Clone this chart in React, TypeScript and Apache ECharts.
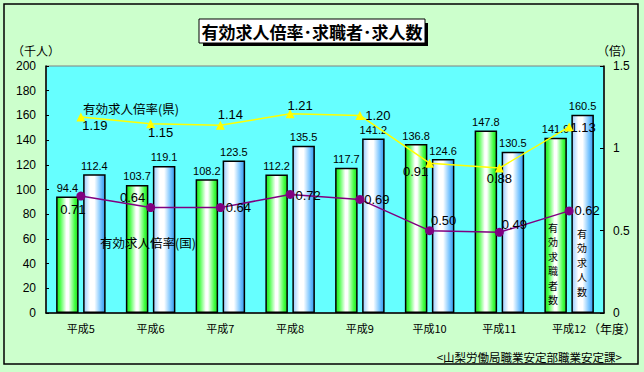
import React, { useEffect, useRef } from "react";
import * as echarts from "echarts";

const categories = ["平成5", "平成6", "平成7", "平成8", "平成9", "平成10", "平成11", "平成12"];
const seekers = [94.4, 103.7, 108.2, 112.2, 117.7, 136.8, 147.8, 141.9];
const openings = [112.4, 119.1, 123.5, 135.5, 141.2, 124.6, 130.5, 160.5];
const ratioPref = [1.19, 1.15, 1.14, 1.21, 1.2, 0.91, 0.88, 1.13];
const ratioNation = [0.71, 0.64, 0.64, 0.72, 0.69, 0.5, 0.49, 0.62];
const leftTicks = { min: 0, max: 200, interval: 20 };
const rightTicks = { min: 0, max: 1.5, interval: 0.5 };

const prefOffsets = [[14, 8], [10, 9], [10, -11], [10, -8], [18, 0], [-14, 8], [0, 10], [14, 1]];
const nationOffsets = [[-8, 13], [-18, -10], [18, 0], [18, 1], [17, 0], [14, -10], [15, -8], [18, 0]];

const NUM_FONT = "'Liberation Sans', 'Noto Sans CJK JP', sans-serif";
const JP_FONT = "'Noto Sans CJK JP', sans-serif";

export default function App() {
  const ref = useRef<HTMLDivElement>(null);
  useEffect(() => {
    document.body.style.margin = "0";
    const chart = echarts.init(ref.current!, undefined, { renderer: "svg" });
    const greenGrad = new echarts.graphic.LinearGradient(0, 0, 1, 0, [
      { offset: 0, color: "#22dd22" },
      { offset: 0.15, color: "#44ff44" },
      { offset: 0.45, color: "#ffffff" },
      { offset: 0.55, color: "#ffffff" },
      { offset: 0.85, color: "#44ff44" },
      { offset: 1, color: "#22dd22" },
    ]);
    const blueGrad = new echarts.graphic.LinearGradient(0, 0, 1, 0, [
      { offset: 0, color: "#99ccff" },
      { offset: 0.3, color: "#ffffff" },
      { offset: 0.5, color: "#ffffff" },
      { offset: 0.8, color: "#77c4ff" },
      { offset: 1, color: "#3399ee" },
    ]);
    const vchars = (s: string, x: number, y0: number) =>
      s.split("").map((ch, i) => ({
        type: "text",
        x,
        y: y0 + i * 14.5,
        z: 10,
        style: { text: ch, fontSize: 10, fontFamily: JP_FONT, fill: "#000", align: "center", verticalAlign: "middle" },
      }));
    chart.setOption({
      animation: false,
      backgroundColor: "#ccffcc",
      grid: {
        left: 46,
        right: 40,
        top: 66,
        bottom: 59,
        show: true,
        backgroundColor: "#66ffff",
        borderColor: "#808080",
        borderWidth: 1,
      },
      xAxis: {
        type: "category",
        data: categories,
        axisLine: { lineStyle: { color: "#000", width: 1.5 } },
        axisTick: { inside: true, length: 4, lineStyle: { color: "#000" } },
        axisLabel: { color: "#000", fontSize: 11, fontFamily: JP_FONT, margin: 9 },
      },
      yAxis: [
        {
          type: "value",
          ...leftTicks,
          axisLine: { show: true, lineStyle: { color: "#000", width: 1.5 } },
          axisTick: { show: true, inside: true, length: 3, lineStyle: { color: "#000" } },
          splitLine: { show: false },
          axisLabel: { color: "#000", fontSize: 12, fontFamily: NUM_FONT, margin: 10 },
        },
        {
          type: "value",
          ...rightTicks,
          axisLine: { show: true, lineStyle: { color: "#000", width: 1.5 } },
          axisTick: { show: true, inside: true, length: 4, lineStyle: { color: "#000" } },
          splitLine: { show: false },
          axisLabel: { color: "#000", fontSize: 12, fontFamily: NUM_FONT, margin: 9 },
        },
      ],
      series: [
        {
          type: "bar",
          data: seekers,
          barGap: "20%",
          barCategoryGap: "29%",
          itemStyle: { color: greenGrad, borderColor: "#000", borderWidth: 1.5 },
          label: { show: true, position: "top", distance: 3, color: "#000", fontSize: 11, fontFamily: NUM_FONT },
        },
        {
          type: "bar",
          data: openings,
          barGap: "20%",
          barCategoryGap: "29%",
          itemStyle: { color: blueGrad, borderColor: "#000", borderWidth: 1.5 },
          label: { show: true, position: "top", distance: 3, color: "#000", fontSize: 11, fontFamily: NUM_FONT },
        },
        {
          type: "line",
          yAxisIndex: 1,
          z: 5,
          data: ratioPref.map((v, i) => ({
            value: v,
            label: { offset: prefOffsets[i] },
          })),
          symbol: "triangle",
          symbolSize: 9,
          lineStyle: { color: "#ffff00", width: 1.5 },
          itemStyle: { color: "#ffff00" },
          label: {
            show: true,
            position: "inside",
            color: "#000",
            fontSize: 13,
            fontFamily: NUM_FONT,
            formatter: (p: any) => p.value.toFixed(2),
          },
        },
        {
          type: "line",
          yAxisIndex: 1,
          z: 5,
          data: ratioNation.map((v, i) => ({
            value: v,
            label: { offset: nationOffsets[i] },
          })),
          symbol: "circle",
          symbolSize: 9,
          lineStyle: { color: "#800080", width: 1.5 },
          itemStyle: { color: "#800080" },
          label: {
            show: true,
            position: "inside",
            color: "#000",
            fontSize: 13,
            fontFamily: NUM_FONT,
            formatter: (p: any) => p.value.toFixed(2),
          },
        },
      ],
      graphic: [
        {
          type: "rect",
          shape: { x: 4, y: 4, width: 634, height: 360 },
          style: { fill: "none", stroke: "#000", lineWidth: 1.5 },
          silent: true,
        },
        {
          type: "rect",
          shape: { x: 203, y: 23, width: 225, height: 23 },
          style: { fill: "#000" },
        },
        {
          type: "rect",
          shape: { x: 199, y: 19, width: 226, height: 24 },
          style: { fill: "#fff", stroke: "#000", lineWidth: 1 },
        },
        {
          type: "text",
          x: 312,
          y: 31,
          style: {
            text: "有効求人倍率･求職者･求人数",
            fontSize: 17,
            fontWeight: "bold",
            fontFamily: JP_FONT,
            fill: "#000",
            align: "center",
            verticalAlign: "middle",
          },
        },
        {
          type: "text",
          x: 36,
          y: 50,
          style: { text: "（千人）", fontSize: 12, fontFamily: JP_FONT, fill: "#000", align: "center", verticalAlign: "middle" },
        },
        {
          type: "text",
          x: 615,
          y: 50,
          style: { text: "（倍）", fontSize: 12, fontFamily: JP_FONT, fill: "#000", align: "center", verticalAlign: "middle" },
        },
        {
          type: "text",
          x: 612,
          y: 328,
          style: { text: "（年度）", fontSize: 12, fontFamily: JP_FONT, fill: "#000", align: "center", verticalAlign: "middle" },
        },
        {
          type: "text",
          x: 622,
          y: 357,
          style: { text: "<山梨労働局職業安定部職業安定課>", fontSize: 11.5, fontFamily: JP_FONT, fill: "#000", align: "right", verticalAlign: "middle" },
        },
        {
          type: "text",
          x: 83,
          y: 108,
          z: 10,
          style: { text: "有効求人倍率(県)", fontSize: 12.5, fontFamily: JP_FONT, fill: "#000", align: "left", verticalAlign: "middle" },
        },
        {
          type: "text",
          x: 100,
          y: 242,
          z: 10,
          style: { text: "有効求人倍率(国)", fontSize: 12.5, fontFamily: JP_FONT, fill: "#000", align: "left", verticalAlign: "middle" },
        },
        ...vchars("有効求職者数", 553, 227),
        ...vchars("有効求人数", 582, 233),
      ],
    });
    return () => chart.dispose();
  }, []);
  return <div ref={ref} style={{ width: 644, height: 372 }} />;
}
